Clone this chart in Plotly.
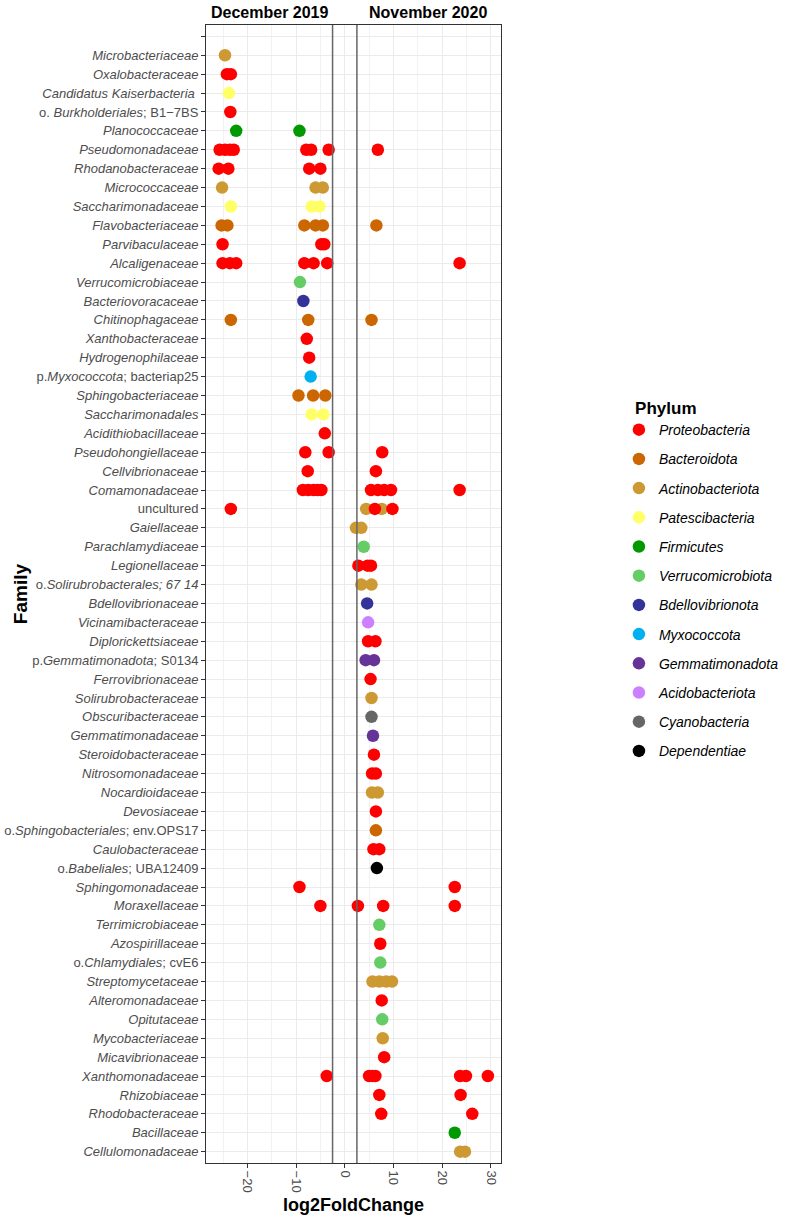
import plotly.graph_objects as go

# ---------------- data ----------------
families = [
    " ", "Microbacteriaceae", "Oxalobacteraceae", "Candidatus Kaiserbacteria",
    "B1-7BS", "Planococcaceae", "Pseudomonadaceae", "Rhodanobacteraceae",
    "Micrococcaceae", "Saccharimonadaceae", "Flavobacteriaceae", "Parvibaculaceae",
    "Alcaligenaceae", "Verrucomicrobiaceae", "Bacteriovoracaceae", "Chitinophagaceae",
    "Xanthobacteraceae", "Hydrogenophilaceae", "bacteriap25", "Sphingobacteriaceae",
    "Saccharimonadales", "Acidithiobacillaceae", "Pseudohongiellaceae", "Cellvibrionaceae",
    "Comamonadaceae", "uncultured", "Gaiellaceae", "Parachlamydiaceae",
    "Legionellaceae", "67 14", "Bdellovibrionaceae", "Vicinamibacteraceae",
    "Diplorickettsiaceae", "S0134", "Ferrovibrionaceae", "Solirubrobacteraceae",
    "Obscuribacteraceae", "Gemmatimonadaceae", "Steroidobacteraceae", "Nitrosomonadaceae",
    "Nocardioidaceae", "Devosiaceae", "env.OPS17", "Caulobacteraceae",
    "UBA12409", "Sphingomonadaceae", "Moraxellaceae", "Terrimicrobiaceae",
    "Azospirillaceae", "cvE6", "Streptomycetaceae", "Alteromonadaceae",
    "Opitutaceae", "Mycobacteriaceae", "Micavibrionaceae", "Xanthomonadaceae",
    "Rhizobiaceae", "Rhodobacteraceae", "Bacillaceae", "Cellulomonadaceae",
]

family_labels = [
    "", "<i>Microbacteriaceae</i>", "<i>Oxalobacteraceae</i>", "<i>Candidatus Kaiserbacteria</i> ",
    "o. <i>Burkholderiales</i>; B1\u22127BS", "<i>Planococcaceae</i>", "<i>Pseudomonadaceae</i>",
    "<i>Rhodanobacteraceae</i>", "<i>Micrococcaceae</i>", "<i>Saccharimonadaceae</i>",
    "<i>Flavobacteriaceae</i>", "<i>Parvibaculaceae</i>", "<i>Alcaligenaceae</i>",
    "<i>Verrucomicrobiaceae</i>", "<i>Bacteriovoracaceae</i>", "<i>Chitinophagaceae</i>",
    "<i>Xanthobacteraceae</i>", "<i>Hydrogenophilaceae</i>", "p.<i>Myxococcota</i>; bacteriap25",
    "<i>Sphingobacteriaceae</i>", "<i>Saccharimonadales</i>", "<i>Acidithiobacillaceae</i>",
    "<i>Pseudohongiellaceae</i>", "<i>Cellvibrionaceae</i>", "<i>Comamonadaceae</i>",
    "uncultured", "<i>Gaiellaceae</i>", "<i>Parachlamydiaceae</i>", "<i>Legionellaceae</i>",
    "o.<i>Solirubrobacterales; 67 14</i>", "<i>Bdellovibrionaceae</i>", "<i>Vicinamibacteraceae</i>",
    "<i>Diplorickettsiaceae</i>", "p.<i>Gemmatimonadota</i>; S0134", "<i>Ferrovibrionaceae</i>",
    "<i>Solirubrobacteraceae</i>", "<i>Obscuribacteraceae</i>", "<i>Gemmatimonadaceae</i>",
    "<i>Steroidobacteraceae</i>", "<i>Nitrosomonadaceae</i>", "<i>Nocardioidaceae</i>",
    "<i>Devosiaceae</i>", "o.<i>Sphingobacteriales</i>; env.OPS17", "<i>Caulobacteraceae</i>",
    "o.<i>Babeliales</i>; UBA12409", "<i>Sphingomonadaceae</i>", "<i>Moraxellaceae</i>",
    "<i>Terrimicrobiaceae</i>", "<i>Azospirillaceae</i>", "o.<i>Chlamydiales</i>; cvE6",
    "<i>Streptomycetaceae</i>", "<i>Alteromonadaceae</i>", "<i>Opitutaceae</i>",
    "<i>Mycobacteriaceae</i>", "<i>Micavibrionaceae</i>", "<i>Xanthomonadaceae</i>",
    "<i>Rhizobiaceae</i>", "<i>Rhodobacteraceae</i>", "<i>Bacillaceae</i>",
    "<i>Cellulomonadaceae</i>",
]

phyla = ["Proteobacteria", "Bacteroidota", "Actinobacteriota", "Patescibacteria",
         "Firmicutes", "Verrucomicrobiota", "Bdellovibrionota", "Myxococcota",
         "Gemmatimonadota", "Acidobacteriota", "Cyanobacteria", "Dependentiae"]
phylum_colors = ["#FF0000", "#CC6600", "#CC9933", "#FFFF66",
                 "#009900", "#66CC66", "#333399", "#00B0F0",
                 "#663399", "#CC80FF", "#666666", "#000000"]

pt_family = (
    ["Microbacteriaceae"] + ["Oxalobacteraceae"] * 2 + ["Candidatus Kaiserbacteria"]
    + ["B1-7BS"] + ["Planococcaceae"] * 2 + ["Pseudomonadaceae"] * 8
    + ["Rhodanobacteraceae"] * 4 + ["Micrococcaceae"] * 3 + ["Saccharimonadaceae"] * 3
    + ["Flavobacteriaceae"] * 6 + ["Parvibaculaceae"] * 3 + ["Alcaligenaceae"] * 7
    + ["Verrucomicrobiaceae"] + ["Bacteriovoracaceae"] + ["Chitinophagaceae"] * 3
    + ["Xanthobacteraceae"] + ["Hydrogenophilaceae"] + ["bacteriap25"]
    + ["Sphingobacteriaceae"] * 3 + ["Saccharimonadales"] * 2 + ["Acidithiobacillaceae"]
    + ["Pseudohongiellaceae"] * 3 + ["Cellvibrionaceae"] * 2 + ["Comamonadaceae"] * 10
    + ["uncultured"] * 5 + ["Gaiellaceae"] * 2 + ["Parachlamydiaceae"]
    + ["Legionellaceae"] * 3 + ["67 14"] * 2 + ["Bdellovibrionaceae"] + ["Vicinamibacteraceae"]
    + ["Diplorickettsiaceae"] * 2 + ["S0134"] * 2 + ["Ferrovibrionaceae"]
    + ["Solirubrobacteraceae"] + ["Obscuribacteraceae"] + ["Gemmatimonadaceae"]
    + ["Steroidobacteraceae"] + ["Nitrosomonadaceae"] * 2 + ["Nocardioidaceae"] * 2
    + ["Devosiaceae"] + ["env.OPS17"] + ["Caulobacteraceae"] * 2 + ["UBA12409"]
    + ["Sphingomonadaceae"] * 2 + ["Moraxellaceae"] * 4 + ["Terrimicrobiaceae"]
    + ["Azospirillaceae"] + ["cvE6"] + ["Streptomycetaceae"] * 4 + ["Alteromonadaceae"]
    + ["Opitutaceae"] + ["Mycobacteriaceae"] + ["Micavibrionaceae"]
    + ["Xanthomonadaceae"] * 7 + ["Rhizobiaceae"] * 2 + ["Rhodobacteraceae"] * 2
    + ["Bacillaceae"] + ["Cellulomonadaceae"] * 2
)

pt_lfc = (
    [-24.6] + [-24.2, -23.4] + [-23.8]
    + [-23.5] + [-22.3, -9.3] + [-25.7, -24.6, -23.6, -22.8, -7.9, -6.9, -3.3, 6.8]
    + [-25.9, -23.9, -7.3, -5.0] + [-25.2, -6.0, -4.5] + [-23.4, -6.8, -5.2]
    + [-25.3, -24.1, -8.3, -6.0, -4.5, 6.5] + [-25.1, -4.8, -4.2]
    + [-25.1, -23.6, -22.3, -8.3, -6.4, -3.6, 23.6]
    + [-9.2] + [-8.5] + [-23.4, -7.5, 5.5]
    + [-7.8] + [-7.3] + [-7.0]
    + [-9.5, -6.5, -4.0] + [-6.8, -4.4] + [-4.1]
    + [-8.1, -3.3, 7.7] + [-7.6, 6.4]
    + [-8.6, -7.5, -6.4, -5.6, -4.8, 5.4, 6.8, 8.1, 9.5, 23.6]
    + [-23.4, 4.4, 6.2, 7.6, 9.8] + [2.3, 3.4] + [3.9]
    + [2.8, 4.7, 5.4] + [3.4, 5.5] + [4.6] + [4.8]
    + [4.8, 6.3] + [4.3, 6.0] + [5.3]
    + [5.5] + [5.5] + [5.8]
    + [6.0] + [5.6, 6.4] + [5.6, 6.8]
    + [6.4] + [6.4] + [5.9, 7.1] + [6.6]
    + [-9.3, 22.6] + [-5.0, 2.7, 7.9, 22.6] + [7.1]
    + [7.3] + [7.3] + [5.7, 7.1, 8.5, 9.7] + [7.6]
    + [7.7] + [7.8] + [8.1]
    + [-3.7, 5.0, 5.7, 6.3, 23.7, 24.9, 29.4] + [7.1, 23.8] + [7.5, 26.2]
    + [22.6] + [23.7, 24.7]
)

pt_phylum = (
    ["Actinobacteriota"] + ["Proteobacteria"] * 2 + ["Patescibacteria"]
    + ["Proteobacteria"] + ["Firmicutes"] * 2 + ["Proteobacteria"] * 8
    + ["Proteobacteria"] * 4 + ["Actinobacteriota"] * 3 + ["Patescibacteria"] * 3
    + ["Bacteroidota"] * 6 + ["Proteobacteria"] * 3 + ["Proteobacteria"] * 7
    + ["Verrucomicrobiota"] + ["Bdellovibrionota"] + ["Bacteroidota"] * 3
    + ["Proteobacteria"] + ["Proteobacteria"] + ["Myxococcota"]
    + ["Bacteroidota"] * 3 + ["Patescibacteria"] * 2 + ["Proteobacteria"]
    + ["Proteobacteria"] * 3 + ["Proteobacteria"] * 2 + ["Proteobacteria"] * 10
    + ["Proteobacteria", "Actinobacteriota", "Proteobacteria", "Actinobacteriota", "Proteobacteria"]
    + ["Actinobacteriota"] * 2 + ["Verrucomicrobiota"]
    + ["Proteobacteria"] * 3 + ["Actinobacteriota"] * 2 + ["Bdellovibrionota"] + ["Acidobacteriota"]
    + ["Proteobacteria"] * 2 + ["Gemmatimonadota"] * 2 + ["Proteobacteria"]
    + ["Actinobacteriota"] + ["Cyanobacteria"] + ["Gemmatimonadota"]
    + ["Proteobacteria"] + ["Proteobacteria"] * 2 + ["Actinobacteriota"] * 2
    + ["Proteobacteria"] + ["Bacteroidota"] + ["Proteobacteria"] * 2 + ["Dependentiae"]
    + ["Proteobacteria"] * 2 + ["Proteobacteria"] * 4 + ["Verrucomicrobiota"]
    + ["Proteobacteria"] + ["Verrucomicrobiota"] + ["Actinobacteriota"] * 4 + ["Proteobacteria"]
    + ["Verrucomicrobiota"] + ["Actinobacteriota"] + ["Proteobacteria"]
    + ["Proteobacteria"] * 7 + ["Proteobacteria"] * 2 + ["Proteobacteria"] * 2
    + ["Firmicutes"] + ["Actinobacteriota"] * 2
)

x_ticks = [-20, -10, 0, 10, 20, 30]
threshold_lines = [-2.5, 2.5]
period_labels = ["December 2019", "November 2020"]

# ---------------- figure ----------------
FONT = "Liberation Sans, Arial, Helvetica, sans-serif"
fig = go.Figure()

# draw in reverse so Proteobacteria is on top, legend order via legendrank
for rank in range(len(phyla) - 1, -1, -1):
    ph = phyla[rank]
    xs = [v for v, p in zip(pt_lfc, pt_phylum) if p == ph]
    ys = [f for f, p in zip(pt_family, pt_phylum) if p == ph]
    fig.add_trace(go.Scatter(
        x=xs, y=ys, mode="markers", name="<i>" + ph + "</i>",
        legendgroup=ph, legendrank=rank + 1,
        marker=dict(color=phylum_colors[rank], size=12.5, line=dict(width=0)),
    ))

for xv in threshold_lines:
    fig.add_shape(type="line", xref="x", yref="paper", x0=xv, x1=xv, y0=0, y1=1,
                  line=dict(color="#666666", width=1.5), layer="above")

fig.add_annotation(text="<b>" + period_labels[0] + "</b>", xref="paper", yref="paper",
                   x=0.216, y=1.0114, showarrow=False, xanchor="center", yanchor="middle",
                   font=dict(family=FONT, size=16, color="#000000"))
fig.add_annotation(text="<b>" + period_labels[1] + "</b>", xref="paper", yref="paper",
                   x=0.753, y=1.0114, showarrow=False, xanchor="center", yanchor="middle",
                   font=dict(family=FONT, size=16, color="#000000"))
fig.add_annotation(text="<b>log2FoldChange</b>", xref="paper", yref="paper",
                   x=0.5, y=-0.0369, showarrow=False, xanchor="center", yanchor="middle",
                   font=dict(family=FONT, size=18, color="#000000"))
fig.add_annotation(text="<b>Family</b>", xref="paper", yref="paper",
                   x=-0.630, y=0.5, showarrow=False, xanchor="center", yanchor="middle",
                   textangle=-90, font=dict(family=FONT, size=19, color="#000000"))

fig.update_layout(
    width=795, height=1221,
    margin=dict(l=206, r=293, t=25, b=58),
    paper_bgcolor="white", plot_bgcolor="white",
    font=dict(family=FONT, size=13, color="#4D4D4D"),
    showlegend=True,
    legend=dict(
        x=1.395, y=0.6775, xanchor="left", yanchor="top",
        title=dict(text="\u00a0\u00a0\u00a0<b>Phylum</b>",
                   font=dict(family=FONT, size=17, color="#000000")),
        font=dict(family=FONT, size=14, color="#000000"),
        tracegroupgap=8, itemsizing="trace",
        bgcolor="rgba(0,0,0,0)",
    ),
    xaxis=dict(
        range=[-28.5, 32.1], tickmode="array", tickvals=x_ticks,
        tickangle=90, ticks="outside", ticklen=4, tickcolor="#333333",
        tickfont=dict(family=FONT, size=13, color="#4D4D4D"),
        showgrid=True, gridcolor="#EBEBEB", gridwidth=1.4,
        minor=dict(dtick=5, tick0=0, showgrid=True, gridcolor="#F2F2F2", gridwidth=0.8),
        zeroline=False, showline=True, mirror=True, linecolor="#333333", linewidth=1,
        automargin=False,
    ),
    yaxis=dict(
        type="category", categoryorder="array", categoryarray=families,
        tickmode="array", tickvals=families, ticktext=family_labels,
        range=[59.6, -0.6], ticks="outside", ticklen=4, tickcolor="#333333",
        tickfont=dict(family=FONT, size=13, color="#4D4D4D"),
        showgrid=True, gridcolor="#EBEBEB", gridwidth=1.4,
        zeroline=False, showline=True, mirror=True, linecolor="#333333", linewidth=1,
        automargin=False,
    ),
)

fig.write_html(
    "out.html",
    config={"displayModeBar": False},
    post_script="document.body.style.margin='0';document.body.style.overflow='hidden';",
)
